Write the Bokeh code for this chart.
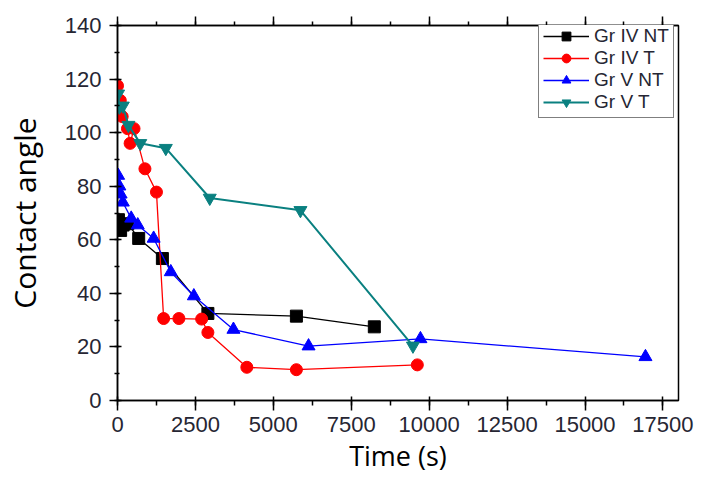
from bokeh.plotting import figure
from bokeh.models import (Range1d, LinearAxis, SingleIntervalTicker, Legend, LegendItem,
                          CustomJSTickFormatter)
from bokeh.embed import file_html
from bokeh.resources import INLINE

# ---- data ----
grIVNT_t = [30, 100, 180, 330, 680, 1440, 2900, 5740, 8240]
grIVNT_v = [67.5, 63.5, 65.5, 66, 60.5, 53, 32.5, 31.5, 27.5]

grIVT_t = [0, 90, 150, 320, 405, 530, 880, 1250, 1480, 1970, 2700, 2900, 4150, 5740, 9620]
grIVT_v = [117.5, 112, 106, 101.5, 96, 101.5, 86.5, 77.8, 30.6, 30.6, 30.4, 25.4, 12.4, 11.5, 13.3]

grVNT_t = [20, 60, 100, 170, 440, 650, 1160, 1710, 2450, 3720, 6130, 9720, 16940]
grVNT_v = [84, 80, 77, 74, 68, 65.5, 60.5, 48, 39, 26.5, 20.3, 23, 16.3]

grVT_t = [20, 60, 170, 350, 730, 1550, 2960, 5870, 9480]
grVT_v = [114.5, 109.6, 110, 102.8, 96, 94.2, 75.6, 71, 20.4]

x_label = "Time (s)"
y_label = "Contact angle"
series_names = ["Gr IV NT", "Gr IV T", "Gr V NT", "Gr V T"]

# ---- figure ----
W, H = 700, 476
ML, MR, MT, MB = 113, 22, 25, 75
p = figure(width=W, height=H, output_backend="svg", toolbar_location=None,
           x_range=Range1d(0, 18000), y_range=Range1d(0, 140),
           min_border_left=ML, min_border_right=MR, min_border_top=MT, min_border_bottom=MB,
           x_axis_location=None, y_axis_location=None)
p.grid.visible = False
p.outline_line_color = "black"
p.outline_line_width = 1.5
p.background_fill_color = "white"
p.border_fill_color = "white"

tick_font = "Liberation Sans"
tick_color = "#262633"
label_font = "Open Sans"

xaxis = LinearAxis(ticker=SingleIntervalTicker(interval=2500, num_minor_ticks=2))
xaxis.axis_label = x_label
xaxis.major_tick_in = 4
xaxis.major_tick_out = 10
xaxis.minor_tick_in = 0
xaxis.minor_tick_out = 5
xaxis.major_label_standoff = 6
xaxis.axis_label_standoff = 2
p.add_layout(xaxis, "below")

yaxis = LinearAxis(ticker=SingleIntervalTicker(interval=20, num_minor_ticks=2))
yaxis.axis_label = y_label
yaxis.major_tick_in = 4
yaxis.major_tick_out = 8
yaxis.minor_tick_in = 2
yaxis.minor_tick_out = 3
yaxis.major_label_standoff = 8
yaxis.axis_label_standoff = 17
p.add_layout(yaxis, "left")

top = LinearAxis(ticker=SingleIntervalTicker(interval=2500, num_minor_ticks=2),
                 formatter=CustomJSTickFormatter(code="return ''"))
top.major_tick_in = 0
top.major_tick_out = 9
top.minor_tick_in = 0
top.minor_tick_out = 4
top.major_label_standoff = 0
p.add_layout(top, "above")

for ax in (xaxis, yaxis, top):
    ax.axis_line_color = "black"
    ax.axis_line_width = 1.5
    ax.major_tick_line_color = "black"
    ax.major_tick_line_width = 1.5
    ax.minor_tick_line_color = "black"
    ax.minor_tick_line_width = 1.5
    ax.major_label_text_font = tick_font
    ax.major_label_text_color = tick_color
    ax.axis_label_text_font = label_font
    ax.axis_label_text_font_style = "normal"
    ax.axis_label_text_color = "black"
for ax in (xaxis, yaxis):
    ax.major_label_text_font_size = "22px"
xaxis.axis_label_text_font_size = "27px"
yaxis.axis_label_text_font_size = "30px"

# ---- series ----
items = []
specs = [
    (grIVNT_t, grIVNT_v, "black", "square", 12, 1.3),
    (grIVT_t, grIVT_v, "#ff0000", "circle", 12, 1.3),
    (grVNT_t, grVNT_v, "#0000ff", "triangle", 13, 1.3),
    (grVT_t, grVT_v, "#0a8080", "inverted_triangle", 13, 2.0),
]
for name, (t, v, c, m, s, lw) in zip(series_names, specs):
    ln = p.line(t, v, line_color=c, line_width=lw)
    sc = p.scatter(t, v, marker=m, size=s, fill_color=c, line_color=c)
    items.append(LegendItem(label=name, renderers=[ln, sc]))

frame_w = W - ML - MR
frame_h = H - MT - MB
leg_h = 4 * 22 + 2 * 3
leg_w = 140
legend = Legend(items=items, location=(frame_w - leg_w - 4, frame_h - leg_h),
                glyph_width=46, glyph_height=22, label_height=22, spacing=0,
                padding=4, margin=0, label_standoff=5,
                label_text_font=tick_font, label_text_font_size="19px",
                label_text_color="#262633",
                border_line_color="black", border_line_width=1.5,
                background_fill_alpha=1.0)
p.add_layout(legend, "center")

open("out.html", "w").write(file_html(p, INLINE))
